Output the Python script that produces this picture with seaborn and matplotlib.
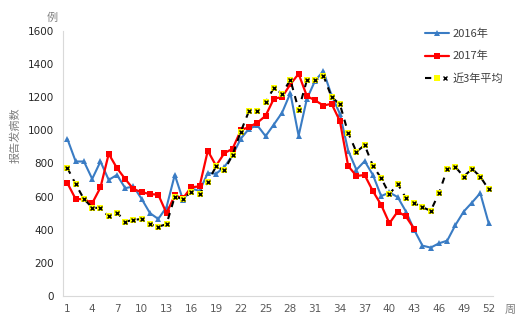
import matplotlib
matplotlib.use("Agg")
import matplotlib.pyplot as plt
import seaborn as sns
import pandas as pd
from matplotlib.lines import Line2D
from matplotlib.legend_handler import HandlerTuple

# Weekly reported cases
weeks_2016 = list(range(1, 53))
cases_2016 = [947, 812, 812, 707, 812, 701, 731, 651, 661, 585,
              500, 465, 536, 731, 580, 648, 635, 742, 738, 778,
              850, 950, 1010, 1030, 965, 1035, 1107, 1225, 967, 1190,
              1300, 1358, 1210, 1100, 878, 762, 814, 731, 603, 625,
              597, 510, 399, 304, 292, 318, 334, 429, 510, 564,
              621, 443]

weeks_2017 = list(range(1, 44))
cases_2017 = [681, 585, 585, 560, 655, 858, 772, 706, 645, 627,
              615, 612, 500, 607, 590, 657, 661, 877, 786, 862,
              889, 1000, 1021, 1046, 1088, 1191, 1201, 1278, 1341, 1207,
              1181, 1150, 1160, 1056, 785, 725, 730, 633, 550, 439,
              510, 480, 405]

weeks_avg = list(range(1, 53))
cases_avg = [772, 675, 585, 534, 530, 480, 504, 449, 459, 465,
             433, 419, 433, 600, 585, 629, 617, 690, 782, 758,
             852, 993, 1118, 1118, 1169, 1256, 1221, 1306, 1125, 1302,
             1302, 1331, 1200, 1158, 985, 870, 911, 786, 711, 615,
             677, 590, 560, 536, 514, 621, 766, 778, 721, 768,
             721, 645]

series_labels = ["2016年", "2017年", "近3年平均"]
y_ticks = [0, 200, 400, 600, 800, 1000, 1200, 1400, 1600]
x_tick_labels = list(range(1, 53, 3))

sns.set_style("white")
plt.rcParams["font.family"] = ["Noto Sans CJK SC", "DejaVu Sans"]

fig = plt.figure(figsize=(5.32, 3.28), dpi=100)
ax = fig.add_axes([0.119, 0.0976, 0.807, 0.808])

df16 = pd.DataFrame({"week": weeks_2016, "cases": cases_2016})
df17 = pd.DataFrame({"week": weeks_2017, "cases": cases_2017})
dfavg = pd.DataFrame({"week": weeks_avg, "cases": cases_avg})

blue = "#3a7cc4"
red = "#ff0000"

sns.lineplot(data=df16, x="week", y="cases", ax=ax, color=blue, lw=1.5,
             marker="^", markersize=3.8, markeredgewidth=0, zorder=3)
sns.lineplot(data=df17, x="week", y="cases", ax=ax, color=red, lw=1.6,
             marker="s", markersize=4.6, markeredgewidth=0, zorder=4)
# average: dashed black line with yellow square + black cross markers
sns.lineplot(data=dfavg, x="week", y="cases", ax=ax, color="black", lw=1.5,
             linestyle=(0, (3, 3)), zorder=5)
sns.scatterplot(data=dfavg, x="week", y="cases", ax=ax, color="#ffff00",
                marker="s", s=17, linewidth=0, zorder=6)
sns.scatterplot(data=dfavg, x="week", y="cases", ax=ax, color="black",
                marker="x", s=8, linewidth=1.0, zorder=7)

ax.set_xlim(0.5, 52.5)
ax.set_ylim(0, 1600)
ax.set_xlabel("")
ax.set_ylabel("")

ax.set_yticks(y_ticks)
ax.set_yticklabels([str(v) for v in y_ticks], fontsize=7.5, color="#262626",
                   family="DejaVu Sans")
ax.set_xticks(x_tick_labels)
ax.set_xticklabels([str(v) for v in x_tick_labels], fontsize=7.5,
                   color="#595959", family="DejaVu Sans")
ax.set_xticks([0.5 + 3 * k for k in range(18)] + [52.5], minor=True)
ax.tick_params(axis="x", which="major", length=0, pad=6)
ax.tick_params(axis="x", which="minor", length=3, color="#d9d9d9", width=0.8)
ax.tick_params(axis="y", which="major", length=3, color="#d9d9d9", width=0.8, pad=4)

for side in ["top", "right"]:
    ax.spines[side].set_visible(False)
for side in ["left", "bottom"]:
    ax.spines[side].set_color("#d9d9d9")
    ax.spines[side].set_linewidth(0.8)

fig.text(15 / 532, 1 - 135 / 328, "报告发病数", rotation=90, ha="center",
         va="center", fontsize=8, color="#7f7f7f")
fig.text(52 / 532, 1 - 18 / 328, "例", ha="center", va="center",
         fontsize=8, color="#7f7f7f")
fig.text(510 / 532, 1 - 310 / 328, "周", ha="center", va="center",
         fontsize=8, color="#7f7f7f")

h16 = Line2D([], [], color=blue, lw=1.5, marker="^", markersize=3.8,
             markeredgewidth=0)
h17 = Line2D([], [], color=red, lw=1.6, marker="s", markersize=4.6,
             markeredgewidth=0)
havg_line = Line2D([], [], color="black", lw=1.5, linestyle=(0, (3, 3)))
havg_sq = Line2D([], [], color="#ffff00", lw=0, marker="s", markersize=4.2,
                 markeredgewidth=0)
havg_x = Line2D([], [], color="black", lw=0, marker="x", markersize=2.8,
                markeredgewidth=1.0)
leg = fig.legend([h16, h17, (havg_line, havg_sq, havg_x)], series_labels,
                 handler_map={tuple: HandlerTuple(ndivide=None, pad=0)},
                 loc="upper left", bbox_to_anchor=(425 / 532, 1 - 29 / 328),
                 frameon=False, fontsize=8, handlelength=2.2,
                 handletextpad=0.3, labelspacing=1.05, borderpad=0,
                 borderaxespad=0)
for t in leg.get_texts():
    t.set_color("#404040")

fig.savefig("out.png", dpi=100)
